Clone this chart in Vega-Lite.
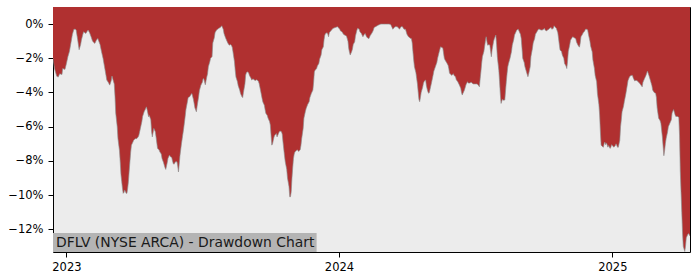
{
"$schema": "https://vega.github.io/schema/vega-lite/v6.json",
"width": 637, "height": 245,
"autosize": {"type": "none"},
"padding": {"left": 53, "top": 7, "right": 10, "bottom": 28},
"background": "white",
"config": {"view": {"fill": "#ececec", "stroke": "black", "strokeWidth": 1}, "font": "DejaVu Sans"},
"data": {"values": [
{"d":"2022-12-14","v":-2.0},{"d":"2022-12-16","v":-2.6},{"d":"2022-12-19","v":-3.05},{"d":"2022-12-21","v":-3.1},{"d":"2022-12-23","v":-2.9},{"d":"2022-12-26","v":-2.95},{"d":"2022-12-27","v":-2.6},{"d":"2022-12-30","v":-2.65},
{"d":"2023-01-01","v":-2.3},{"d":"2023-01-03","v":-1.9},{"d":"2023-01-05","v":-1.6},{"d":"2023-01-07","v":-1.1},{"d":"2023-01-09","v":-0.6},{"d":"2023-01-11","v":-0.3},{"d":"2023-01-13","v":-0.3},{"d":"2023-01-14","v":-0.35},{"d":"2023-01-16","v":-0.9},{"d":"2023-01-18","v":-1.5},{"d":"2023-01-20","v":-1.2},{"d":"2023-01-21","v":-0.94},{"d":"2023-01-23","v":-0.6},{"d":"2023-01-24","v":-0.45},{"d":"2023-01-27","v":-0.55},{"d":"2023-01-29","v":-0.4},{"d":"2023-01-30","v":-0.35},
{"d":"2023-02-01","v":-0.5},{"d":"2023-02-03","v":-0.74},{"d":"2023-02-05","v":-1.0},{"d":"2023-02-08","v":-1.13},{"d":"2023-02-10","v":-0.95},{"d":"2023-02-12","v":-0.84},{"d":"2023-02-15","v":-1.2},{"d":"2023-02-17","v":-1.62},{"d":"2023-02-19","v":-2.0},{"d":"2023-02-21","v":-2.5},{"d":"2023-02-23","v":-3.0},{"d":"2023-02-24","v":-3.27},{"d":"2023-02-26","v":-3.4},{"d":"2023-02-28","v":-3.57},
{"d":"2023-03-02","v":-3.3},{"d":"2023-03-03","v":-3.04},{"d":"2023-03-04","v":-3.2},{"d":"2023-03-06","v":-3.5},{"d":"2023-03-07","v":-4.2},{"d":"2023-03-08","v":-5.2},{"d":"2023-03-10","v":-6.0},{"d":"2023-03-11","v":-6.7},{"d":"2023-03-13","v":-7.4},{"d":"2023-03-14","v":-8.05},{"d":"2023-03-15","v":-8.8},{"d":"2023-03-16","v":-9.2},{"d":"2023-03-17","v":-9.6},{"d":"2023-03-18","v":-9.9},{"d":"2023-03-19","v":-9.85},{"d":"2023-03-20","v":-9.7},{"d":"2023-03-22","v":-9.9},{"d":"2023-03-23","v":-9.9},{"d":"2023-03-24","v":-9.6},{"d":"2023-03-25","v":-9.2},{"d":"2023-03-26","v":-8.6},{"d":"2023-03-27","v":-8.05},{"d":"2023-03-28","v":-7.5},{"d":"2023-03-29","v":-7.08},{"d":"2023-03-31","v":-6.9},
{"d":"2023-04-01","v":-6.8},{"d":"2023-04-03","v":-6.7},{"d":"2023-04-05","v":-6.7},{"d":"2023-04-07","v":-6.6},{"d":"2023-04-08","v":-6.5},{"d":"2023-04-10","v":-6.1},{"d":"2023-04-12","v":-5.7},{"d":"2023-04-13","v":-5.4},{"d":"2023-04-15","v":-5.13},{"d":"2023-04-17","v":-4.95},{"d":"2023-04-18","v":-4.84},{"d":"2023-04-19","v":-5.0},{"d":"2023-04-21","v":-5.42},{"d":"2023-04-22","v":-5.35},{"d":"2023-04-24","v":-5.6},{"d":"2023-04-25","v":-6.3},{"d":"2023-04-26","v":-6.6},{"d":"2023-04-28","v":-6.1},{"d":"2023-04-30","v":-6.3},
{"d":"2023-05-01","v":-6.6},{"d":"2023-05-03","v":-7.27},{"d":"2023-05-05","v":-7.35},{"d":"2023-05-06","v":-7.47},{"d":"2023-05-08","v":-7.6},{"d":"2023-05-09","v":-7.86},{"d":"2023-05-11","v":-8.1},{"d":"2023-05-12","v":-8.25},{"d":"2023-05-13","v":-8.4},{"d":"2023-05-14","v":-8.5},{"d":"2023-05-16","v":-8.1},{"d":"2023-05-17","v":-7.85},{"d":"2023-05-19","v":-7.66},{"d":"2023-05-20","v":-7.75},{"d":"2023-05-22","v":-7.8},{"d":"2023-05-23","v":-8.0},{"d":"2023-05-24","v":-8.15},{"d":"2023-05-25","v":-8.2},{"d":"2023-05-27","v":-8.05},{"d":"2023-05-29","v":-8.05},{"d":"2023-05-30","v":-8.3},{"d":"2023-05-31","v":-8.65},
{"d":"2023-06-01","v":-8.2},{"d":"2023-06-02","v":-7.7},{"d":"2023-06-04","v":-7.0},{"d":"2023-06-05","v":-6.7},{"d":"2023-06-07","v":-6.1},{"d":"2023-06-09","v":-5.4},{"d":"2023-06-10","v":-5.0},{"d":"2023-06-12","v":-4.54},{"d":"2023-06-13","v":-4.3},{"d":"2023-06-15","v":-4.25},{"d":"2023-06-17","v":-4.1},{"d":"2023-06-18","v":-4.06},{"d":"2023-06-20","v":-4.4},{"d":"2023-06-21","v":-4.64},{"d":"2023-06-22","v":-4.9},{"d":"2023-06-24","v":-5.13},{"d":"2023-06-25","v":-4.8},{"d":"2023-06-27","v":-4.25},{"d":"2023-06-28","v":-3.9},{"d":"2023-06-30","v":-3.57},
{"d":"2023-07-02","v":-3.4},{"d":"2023-07-03","v":-3.2},{"d":"2023-07-04","v":-3.2},{"d":"2023-07-05","v":-3.4},{"d":"2023-07-06","v":-3.55},{"d":"2023-07-07","v":-3.3},{"d":"2023-07-08","v":-3.08},{"d":"2023-07-09","v":-2.9},{"d":"2023-07-10","v":-2.5},{"d":"2023-07-12","v":-2.2},{"d":"2023-07-13","v":-2.0},{"d":"2023-07-14","v":-1.95},{"d":"2023-07-15","v":-1.9},{"d":"2023-07-16","v":-1.1},{"d":"2023-07-18","v":-0.8},{"d":"2023-07-19","v":-0.5},{"d":"2023-07-21","v":-0.35},{"d":"2023-07-24","v":-0.25},{"d":"2023-07-26","v":-0.2},{"d":"2023-07-28","v":-0.1},{"d":"2023-07-30","v":-0.3},{"d":"2023-07-31","v":-0.55},
{"d":"2023-08-02","v":-0.8},{"d":"2023-08-04","v":-1.0},{"d":"2023-08-05","v":-1.1},{"d":"2023-08-07","v":-1.23},{"d":"2023-08-09","v":-1.2},{"d":"2023-08-10","v":-1.25},{"d":"2023-08-11","v":-1.35},{"d":"2023-08-12","v":-1.62},{"d":"2023-08-14","v":-2.2},{"d":"2023-08-15","v":-2.7},{"d":"2023-08-16","v":-3.1},{"d":"2023-08-18","v":-3.37},{"d":"2023-08-19","v":-3.6},{"d":"2023-08-21","v":-3.86},{"d":"2023-08-22","v":-4.05},{"d":"2023-08-24","v":-4.25},{"d":"2023-08-25","v":-4.3},{"d":"2023-08-26","v":-4.0},{"d":"2023-08-28","v":-3.5},{"d":"2023-08-29","v":-2.98},{"d":"2023-08-30","v":-2.85},{"d":"2023-08-31","v":-2.79},
{"d":"2023-09-02","v":-2.85},{"d":"2023-09-03","v":-3.0},{"d":"2023-09-05","v":-3.15},{"d":"2023-09-06","v":-3.27},{"d":"2023-09-08","v":-3.2},{"d":"2023-09-09","v":-3.25},{"d":"2023-09-11","v":-3.3},{"d":"2023-09-13","v":-3.25},{"d":"2023-09-15","v":-3.35},{"d":"2023-09-16","v":-3.47},{"d":"2023-09-18","v":-3.9},{"d":"2023-09-20","v":-4.35},{"d":"2023-09-21","v":-4.55},{"d":"2023-09-23","v":-4.74},{"d":"2023-09-24","v":-5.0},{"d":"2023-09-25","v":-5.22},{"d":"2023-09-27","v":-5.35},{"d":"2023-09-28","v":-5.5},{"d":"2023-09-30","v":-5.7},
{"d":"2023-10-01","v":-5.9},{"d":"2023-10-02","v":-6.5},{"d":"2023-10-03","v":-7.08},{"d":"2023-10-04","v":-7.0},{"d":"2023-10-05","v":-6.8},{"d":"2023-10-06","v":-6.6},{"d":"2023-10-07","v":-6.5},{"d":"2023-10-09","v":-6.4},{"d":"2023-10-10","v":-6.6},{"d":"2023-10-11","v":-6.5},{"d":"2023-10-12","v":-6.4},{"d":"2023-10-13","v":-6.3},{"d":"2023-10-14","v":-6.25},{"d":"2023-10-16","v":-6.3},{"d":"2023-10-17","v":-6.45},{"d":"2023-10-18","v":-6.9},{"d":"2023-10-19","v":-7.3},{"d":"2023-10-20","v":-7.7},{"d":"2023-10-21","v":-8.05},{"d":"2023-10-23","v":-8.5},{"d":"2023-10-24","v":-9.0},{"d":"2023-10-26","v":-9.5},{"d":"2023-10-27","v":-10.1},{"d":"2023-10-28","v":-10.1},{"d":"2023-10-29","v":-9.8},{"d":"2023-10-30","v":-9.0},{"d":"2023-10-31","v":-8.4},
{"d":"2023-11-01","v":-7.86},{"d":"2023-11-02","v":-7.6},{"d":"2023-11-03","v":-7.47},{"d":"2023-11-05","v":-7.4},{"d":"2023-11-06","v":-7.35},{"d":"2023-11-07","v":-7.4},{"d":"2023-11-08","v":-7.45},{"d":"2023-11-09","v":-7.4},{"d":"2023-11-10","v":-7.35},{"d":"2023-11-11","v":-7.1},{"d":"2023-11-12","v":-6.7},{"d":"2023-11-14","v":-6.1},{"d":"2023-11-15","v":-5.5},{"d":"2023-11-17","v":-5.1},{"d":"2023-11-18","v":-4.93},{"d":"2023-11-20","v":-4.7},{"d":"2023-11-22","v":-4.54},{"d":"2023-11-23","v":-4.3},{"d":"2023-11-25","v":-4.05},{"d":"2023-11-26","v":-3.95},{"d":"2023-11-27","v":-3.86},{"d":"2023-11-28","v":-3.4},{"d":"2023-11-29","v":-2.79},{"d":"2023-11-30","v":-2.7},
{"d":"2023-12-02","v":-2.6},{"d":"2023-12-03","v":-2.45},{"d":"2023-12-05","v":-2.3},{"d":"2023-12-06","v":-2.05},{"d":"2023-12-08","v":-1.81},{"d":"2023-12-09","v":-1.5},{"d":"2023-12-11","v":-1.33},{"d":"2023-12-12","v":-0.9},{"d":"2023-12-13","v":-0.64},{"d":"2023-12-14","v":-0.55},{"d":"2023-12-16","v":-0.5},{"d":"2023-12-17","v":-0.6},{"d":"2023-12-18","v":-0.74},{"d":"2023-12-19","v":-0.5},{"d":"2023-12-20","v":-0.45},{"d":"2023-12-22","v":-0.35},{"d":"2023-12-24","v":-0.25},{"d":"2023-12-27","v":-0.2},{"d":"2023-12-30","v":-0.15},
{"d":"2024-01-02","v":-0.3},{"d":"2024-01-03","v":-0.4},{"d":"2024-01-05","v":-0.45},{"d":"2024-01-07","v":-0.6},{"d":"2024-01-09","v":-0.65},{"d":"2024-01-11","v":-0.7},{"d":"2024-01-13","v":-1.0},{"d":"2024-01-14","v":-1.42},{"d":"2024-01-15","v":-1.65},{"d":"2024-01-16","v":-1.81},{"d":"2024-01-18","v":-1.6},{"d":"2024-01-19","v":-1.45},{"d":"2024-01-20","v":-1.2},{"d":"2024-01-22","v":-1.03},{"d":"2024-01-23","v":-0.7},{"d":"2024-01-25","v":-0.35},{"d":"2024-01-26","v":-0.25},{"d":"2024-01-28","v":-0.3},{"d":"2024-01-29","v":-0.45},{"d":"2024-01-31","v":-0.55},
{"d":"2024-02-01","v":-0.65},{"d":"2024-02-02","v":-0.74},{"d":"2024-02-04","v":-0.6},{"d":"2024-02-05","v":-0.55},{"d":"2024-02-07","v":-0.75},{"d":"2024-02-08","v":-0.8},{"d":"2024-02-10","v":-0.85},{"d":"2024-02-12","v":-0.65},{"d":"2024-02-13","v":-0.6},{"d":"2024-02-15","v":-0.45},{"d":"2024-02-16","v":-0.35},{"d":"2024-02-17","v":-0.2},{"d":"2024-02-19","v":-0.15},{"d":"2024-02-21","v":-0.1},{"d":"2024-02-23","v":-0.05},{"d":"2024-02-26","v":0},{"d":"2024-02-28","v":0},
{"d":"2024-03-01","v":0},{"d":"2024-03-03","v":0},{"d":"2024-03-05","v":0},{"d":"2024-03-08","v":0},{"d":"2024-03-10","v":-0.02},{"d":"2024-03-11","v":-0.1},{"d":"2024-03-12","v":-0.2},{"d":"2024-03-13","v":-0.3},{"d":"2024-03-15","v":-0.2},{"d":"2024-03-16","v":-0.15},{"d":"2024-03-19","v":-0.15},{"d":"2024-03-21","v":-0.25},{"d":"2024-03-22","v":-0.3},{"d":"2024-03-24","v":-0.15},{"d":"2024-03-26","v":-0.15},{"d":"2024-03-28","v":-0.3},{"d":"2024-03-30","v":-0.3},{"d":"2024-03-31","v":-0.45},
{"d":"2024-04-01","v":-0.6},{"d":"2024-04-03","v":-0.74},{"d":"2024-04-06","v":-0.84},{"d":"2024-04-07","v":-0.85},{"d":"2024-04-08","v":-1.1},{"d":"2024-04-09","v":-1.62},{"d":"2024-04-10","v":-2.1},{"d":"2024-04-11","v":-2.5},{"d":"2024-04-13","v":-2.85},{"d":"2024-04-14","v":-3.18},{"d":"2024-04-15","v":-3.5},{"d":"2024-04-16","v":-3.96},{"d":"2024-04-17","v":-4.4},{"d":"2024-04-18","v":-4.54},{"d":"2024-04-19","v":-4.3},{"d":"2024-04-20","v":-4.0},{"d":"2024-04-22","v":-3.7},{"d":"2024-04-23","v":-3.47},{"d":"2024-04-24","v":-3.35},{"d":"2024-04-26","v":-3.27},{"d":"2024-04-27","v":-3.6},{"d":"2024-04-28","v":-3.8},{"d":"2024-04-29","v":-3.95},{"d":"2024-04-30","v":-4.05},
{"d":"2024-05-01","v":-4.0},{"d":"2024-05-02","v":-3.8},{"d":"2024-05-04","v":-3.4},{"d":"2024-05-06","v":-2.98},{"d":"2024-05-07","v":-2.75},{"d":"2024-05-09","v":-2.5},{"d":"2024-05-11","v":-2.25},{"d":"2024-05-12","v":-2.0},{"d":"2024-05-14","v":-1.65},{"d":"2024-05-16","v":-1.33},{"d":"2024-05-17","v":-1.35},{"d":"2024-05-19","v":-1.4},{"d":"2024-05-21","v":-2.0},{"d":"2024-05-22","v":-2.1},{"d":"2024-05-24","v":-2.25},{"d":"2024-05-26","v":-2.4},{"d":"2024-05-27","v":-2.6},{"d":"2024-05-28","v":-2.88},{"d":"2024-05-30","v":-2.95},{"d":"2024-05-31","v":-3.0},
{"d":"2024-06-02","v":-2.9},{"d":"2024-06-03","v":-3.0},{"d":"2024-06-05","v":-3.08},{"d":"2024-06-06","v":-3.25},{"d":"2024-06-08","v":-3.37},{"d":"2024-06-10","v":-3.55},{"d":"2024-06-12","v":-3.75},{"d":"2024-06-13","v":-4.0},{"d":"2024-06-14","v":-4.15},{"d":"2024-06-15","v":-4.05},{"d":"2024-06-17","v":-3.85},{"d":"2024-06-19","v":-3.55},{"d":"2024-06-21","v":-3.37},{"d":"2024-06-22","v":-3.45},{"d":"2024-06-24","v":-3.45},{"d":"2024-06-26","v":-3.4},{"d":"2024-06-27","v":-3.45},{"d":"2024-06-29","v":-3.5},{"d":"2024-06-30","v":-3.5},
{"d":"2024-07-02","v":-3.5},{"d":"2024-07-04","v":-3.5},{"d":"2024-07-06","v":-3.6},{"d":"2024-07-07","v":-3.67},{"d":"2024-07-08","v":-3.2},{"d":"2024-07-09","v":-2.79},{"d":"2024-07-10","v":-2.3},{"d":"2024-07-11","v":-1.91},{"d":"2024-07-13","v":-1.6},{"d":"2024-07-14","v":-1.3},{"d":"2024-07-15","v":-1.0},{"d":"2024-07-16","v":-0.74},{"d":"2024-07-17","v":-1.0},{"d":"2024-07-18","v":-1.23},{"d":"2024-07-20","v":-1.2},{"d":"2024-07-21","v":-1.25},{"d":"2024-07-22","v":-1.6},{"d":"2024-07-23","v":-1.91},{"d":"2024-07-24","v":-1.5},{"d":"2024-07-26","v":-1.0},{"d":"2024-07-27","v":-0.85},{"d":"2024-07-29","v":-0.64},{"d":"2024-07-30","v":-1.2},{"d":"2024-07-31","v":-1.91},
{"d":"2024-08-02","v":-2.7},{"d":"2024-08-03","v":-3.37},{"d":"2024-08-04","v":-4.1},{"d":"2024-08-05","v":-4.64},{"d":"2024-08-06","v":-4.5},{"d":"2024-08-07","v":-4.4},{"d":"2024-08-08","v":-4.45},{"d":"2024-08-10","v":-4.44},{"d":"2024-08-11","v":-3.9},{"d":"2024-08-12","v":-3.37},{"d":"2024-08-13","v":-2.9},{"d":"2024-08-14","v":-2.5},{"d":"2024-08-15","v":-2.3},{"d":"2024-08-17","v":-2.0},{"d":"2024-08-19","v":-1.6},{"d":"2024-08-20","v":-1.23},{"d":"2024-08-22","v":-0.9},{"d":"2024-08-23","v":-0.64},{"d":"2024-08-25","v":-0.45},{"d":"2024-08-26","v":-0.35},{"d":"2024-08-28","v":-0.3},{"d":"2024-08-29","v":-0.4},{"d":"2024-08-31","v":-0.6},
{"d":"2024-09-01","v":-0.84},{"d":"2024-09-02","v":-1.4},{"d":"2024-09-03","v":-2.0},{"d":"2024-09-05","v":-2.25},{"d":"2024-09-06","v":-2.5},{"d":"2024-09-08","v":-2.8},{"d":"2024-09-10","v":-3.08},{"d":"2024-09-11","v":-2.9},{"d":"2024-09-12","v":-2.7},{"d":"2024-09-13","v":-2.5},{"d":"2024-09-14","v":-1.9},{"d":"2024-09-16","v":-1.42},{"d":"2024-09-17","v":-1.1},{"d":"2024-09-19","v":-0.84},{"d":"2024-09-20","v":-0.6},{"d":"2024-09-22","v":-0.45},{"d":"2024-09-24","v":-0.3},{"d":"2024-09-26","v":-0.3},{"d":"2024-09-27","v":-0.35},{"d":"2024-09-29","v":-0.35},
{"d":"2024-10-01","v":-0.3},{"d":"2024-10-02","v":-0.25},{"d":"2024-10-03","v":-0.35},{"d":"2024-10-05","v":-0.4},{"d":"2024-10-06","v":-0.35},{"d":"2024-10-08","v":-0.3},{"d":"2024-10-09","v":-0.25},{"d":"2024-10-11","v":-0.2},{"d":"2024-10-12","v":-0.3},{"d":"2024-10-14","v":-0.25},{"d":"2024-10-15","v":-0.1},{"d":"2024-10-17","v":-0.2},{"d":"2024-10-18","v":-0.25},{"d":"2024-10-20","v":-0.5},{"d":"2024-10-21","v":-0.84},{"d":"2024-10-22","v":-1.2},{"d":"2024-10-23","v":-1.52},{"d":"2024-10-25","v":-1.6},{"d":"2024-10-26","v":-1.81},{"d":"2024-10-28","v":-2.0},{"d":"2024-10-29","v":-2.3},{"d":"2024-10-31","v":-2.45},
{"d":"2024-11-01","v":-2.6},{"d":"2024-11-02","v":-2.2},{"d":"2024-11-03","v":-1.62},{"d":"2024-11-05","v":-1.2},{"d":"2024-11-06","v":-0.94},{"d":"2024-11-08","v":-0.8},{"d":"2024-11-09","v":-0.74},{"d":"2024-11-11","v":-0.8},{"d":"2024-11-13","v":-0.85},{"d":"2024-11-14","v":-1.05},{"d":"2024-11-16","v":-1.23},{"d":"2024-11-17","v":-1.3},{"d":"2024-11-18","v":-1.35},{"d":"2024-11-19","v":-1.1},{"d":"2024-11-20","v":-0.74},{"d":"2024-11-22","v":-0.6},{"d":"2024-11-23","v":-0.5},{"d":"2024-11-25","v":-0.4},{"d":"2024-11-26","v":-0.3},{"d":"2024-11-28","v":-0.3},{"d":"2024-11-29","v":-0.35},{"d":"2024-11-30","v":-0.6},
{"d":"2024-12-02","v":-1.0},{"d":"2024-12-03","v":-1.3},{"d":"2024-12-05","v":-1.62},{"d":"2024-12-06","v":-2.1},{"d":"2024-12-08","v":-2.6},{"d":"2024-12-09","v":-3.0},{"d":"2024-12-11","v":-3.37},{"d":"2024-12-12","v":-4.05},{"d":"2024-12-14","v":-4.7},{"d":"2024-12-15","v":-5.32},{"d":"2024-12-16","v":-6.3},{"d":"2024-12-17","v":-7.08},{"d":"2024-12-19","v":-7.17},{"d":"2024-12-20","v":-7.2},{"d":"2024-12-21","v":-7.0},{"d":"2024-12-22","v":-6.9},{"d":"2024-12-23","v":-7.05},{"d":"2024-12-24","v":-6.95},{"d":"2024-12-25","v":-7.05},{"d":"2024-12-26","v":-7.2},{"d":"2024-12-27","v":-7.1},{"d":"2024-12-29","v":-7.27},{"d":"2024-12-30","v":-7.2},{"d":"2024-12-31","v":-7.05},
{"d":"2025-01-01","v":-7.1},{"d":"2025-01-03","v":-7.2},{"d":"2025-01-05","v":-7.1},{"d":"2025-01-06","v":-7.0},{"d":"2025-01-08","v":-7.2},{"d":"2025-01-09","v":-7.2},{"d":"2025-01-10","v":-7.0},{"d":"2025-01-11","v":-6.8},{"d":"2025-01-12","v":-6.0},{"d":"2025-01-13","v":-5.6},{"d":"2025-01-14","v":-5.13},{"d":"2025-01-16","v":-4.8},{"d":"2025-01-17","v":-4.54},{"d":"2025-01-19","v":-4.1},{"d":"2025-01-21","v":-3.57},{"d":"2025-01-22","v":-3.3},{"d":"2025-01-24","v":-3.08},{"d":"2025-01-26","v":-3.0},{"d":"2025-01-28","v":-3.0},{"d":"2025-01-29","v":-3.15},{"d":"2025-01-31","v":-3.33},
{"d":"2025-02-01","v":-3.3},{"d":"2025-02-03","v":-3.3},{"d":"2025-02-05","v":-3.4},{"d":"2025-02-06","v":-3.43},{"d":"2025-02-08","v":-3.55},{"d":"2025-02-10","v":-3.67},{"d":"2025-02-11","v":-3.4},{"d":"2025-02-13","v":-3.2},{"d":"2025-02-15","v":-3.0},{"d":"2025-02-17","v":-2.75},{"d":"2025-02-19","v":-3.0},{"d":"2025-02-21","v":-3.3},{"d":"2025-02-23","v":-3.6},{"d":"2025-02-24","v":-3.86},{"d":"2025-02-26","v":-4.0},{"d":"2025-02-28","v":-4.05},
{"d":"2025-03-01","v":-4.3},{"d":"2025-03-02","v":-4.9},{"d":"2025-03-04","v":-5.5},{"d":"2025-03-06","v":-5.65},{"d":"2025-03-07","v":-5.8},{"d":"2025-03-08","v":-6.2},{"d":"2025-03-09","v":-6.6},{"d":"2025-03-11","v":-7.7},{"d":"2025-03-12","v":-7.4},{"d":"2025-03-13","v":-7.0},{"d":"2025-03-14","v":-6.7},{"d":"2025-03-16","v":-6.3},{"d":"2025-03-17","v":-6.0},{"d":"2025-03-19","v":-5.8},{"d":"2025-03-21","v":-5.6},{"d":"2025-03-22","v":-5.2},{"d":"2025-03-24","v":-5.0},{"d":"2025-03-26","v":-5.3},{"d":"2025-03-27","v":-5.4},{"d":"2025-03-29","v":-5.4},{"d":"2025-03-31","v":-5.45},
{"d":"2025-04-01","v":-6.5},{"d":"2025-04-02","v":-8.6},{"d":"2025-04-03","v":-9.8},{"d":"2025-04-04","v":-11.0},{"d":"2025-04-05","v":-12.2},{"d":"2025-04-06","v":-13.0},{"d":"2025-04-08","v":-13.3},{"d":"2025-04-09","v":-13.0},{"d":"2025-04-10","v":-12.5},{"d":"2025-04-12","v":-12.3},{"d":"2025-04-13","v":-12.25},{"d":"2025-04-15","v":-12.4}
]},
"layer": [
{
"mark": {"type": "area", "color": "#b03030", "clip": true, "interpolate": "linear"},
"encoding": {
"x": {"field": "d", "type": "temporal",
"scale": {"type": "utc", "nice": false, "domain": [{"year": 2022, "month": 12, "date": 14, "utc": true}, {"year": 2025, "month": 4, "date": 15, "utc": true}]},
"axis": {"title": null, "grid": false, "domain": false, "format": "%Y",
"values": [{"year": 2023, "month": 1, "date": 1, "utc": true}, {"year": 2024, "month": 1, "date": 1, "utc": true}, {"year": 2025, "month": 1, "date": 1, "utc": true}],
"tickColor": "black", "tickSize": 5, "labelPadding": 4, "labelFontSize": 11.5, "labelColor": "black", "labelFont": "DejaVu Sans"}},
"y": {"field": "v", "type": "quantitative",
"scale": {"domain": [-13.33, 1.0], "nice": false, "zero": false},
"axis": {"title": null, "grid": false, "domain": false, "values": [-12, -10, -8, -6, -4, -2, 0],
"labelExpr": "replace(format(datum.value, 'd'), '-', '\u2212') + '%'",
"tickColor": "black", "tickSize": 5, "labelPadding": 5, "labelFontSize": 11.5, "labelColor": "black", "labelFont": "DejaVu Sans"}},
"y2": {"datum": 1.0}
}
},
{
"mark": {"type": "line", "color": "#8c8c8c", "strokeWidth": 0.8, "opacity": 0.8, "clip": true},
"encoding": {"x": {"field": "d", "type": "temporal"}, "y": {"field": "v", "type": "quantitative"}}
},
{
"data": {"values": [{"label": "DFLV (NYSE ARCA) - Drawdown Chart"}]},
"mark": {"type": "rect", "color": "#b4b4b4"},
"encoding": {
"x": {"datum": {"year": 2022, "month": 12, "date": 14, "utc": true}, "type": "temporal"},
"x2": {"datum": {"year": 2023, "month": 12, "date": 2, "utc": true}},
"y": {"datum": -13.33, "type": "quantitative"},
"y2": {"datum": -12.22}
}
},
{
"data": {"values": [{"label": "DFLV (NYSE ARCA) - Drawdown Chart"}]},
"mark": {"type": "text", "align": "left", "baseline": "alphabetic", "dx": 3, "dy": -5.5, "fontSize": 13.9, "font": "DejaVu Sans", "color": "#1a1a1a"},
"encoding": {
"x": {"datum": {"year": 2022, "month": 12, "date": 14, "utc": true}, "type": "temporal"},
"y": {"datum": -13.33, "type": "quantitative"},
"text": {"field": "label"}
}
}
]
}
